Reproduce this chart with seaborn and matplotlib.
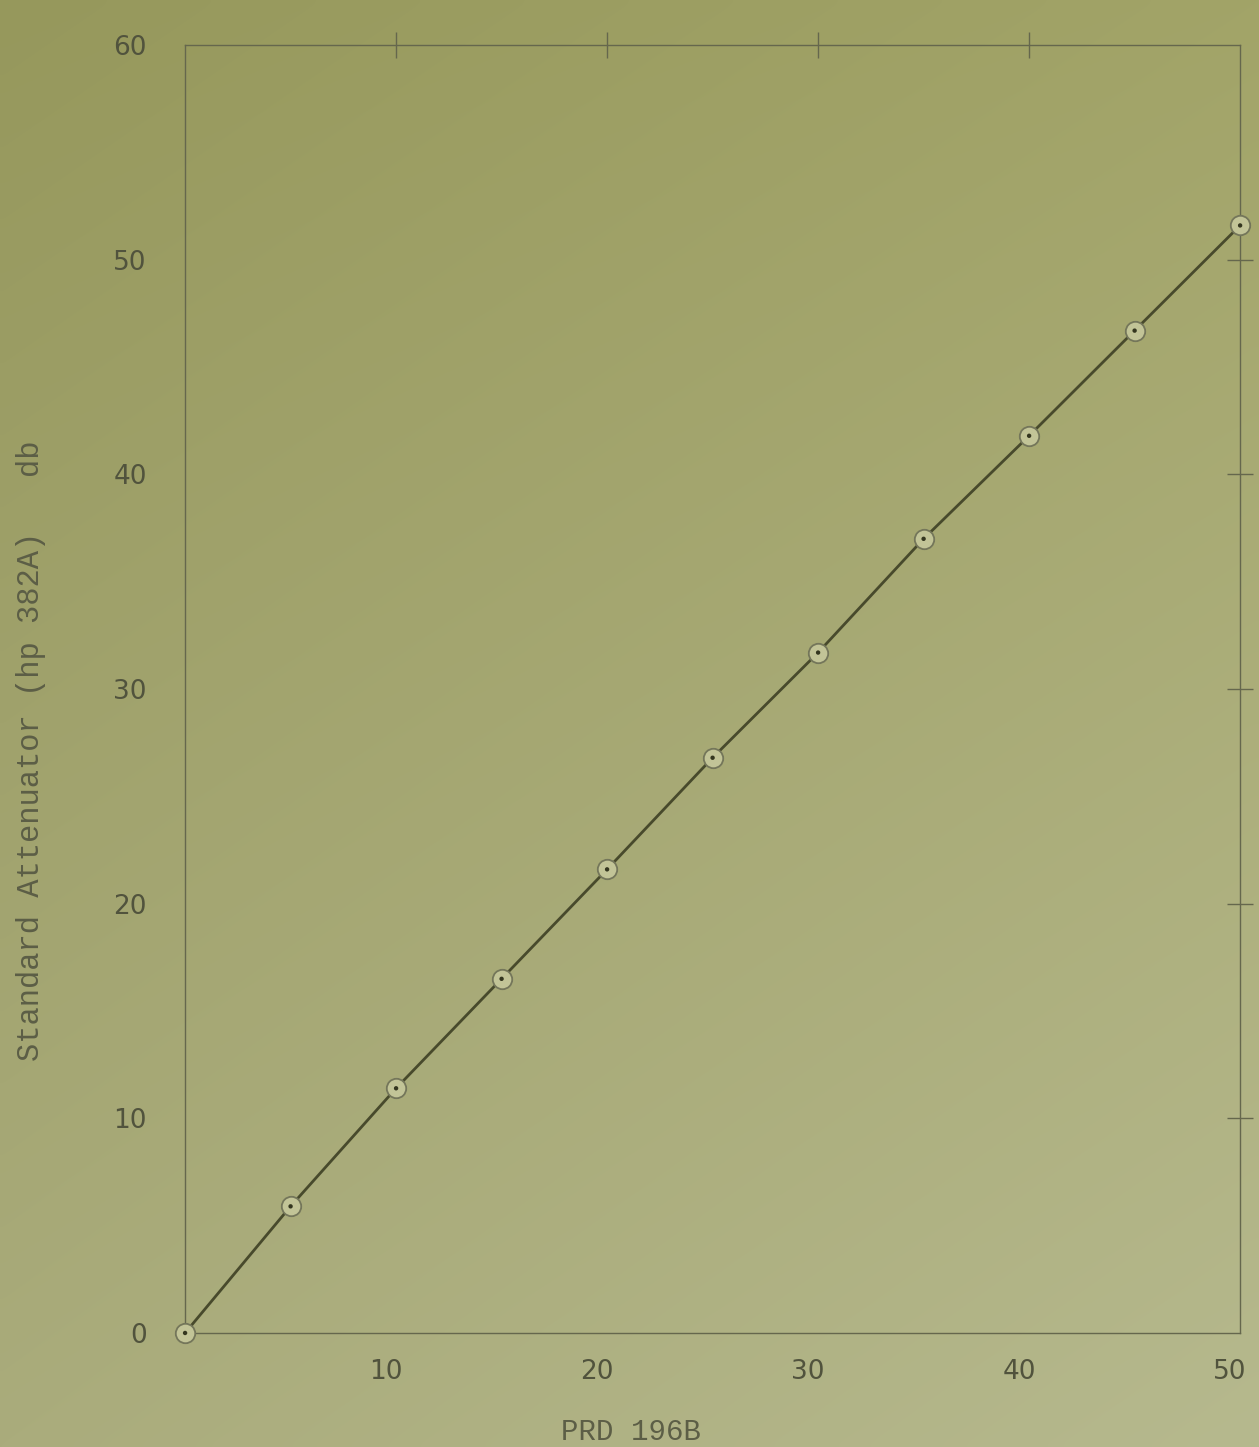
import numpy as np
import pandas as pd
import matplotlib
matplotlib.use("Agg")
import matplotlib.pyplot as plt
from matplotlib.transforms import ScaledTranslation
import seaborn as sns

# Calibration readings: PRD 196B dial setting vs. standard attenuator (hp 382A), in db
prd_196b = [0, 5, 10, 15, 20, 25, 30, 35, 40, 45, 50]
standard_attenuator = [0.0, 5.9, 11.4, 16.5, 21.6, 26.8, 31.7, 37.0, 41.8, 46.7, 51.6]

x_ticks = [10, 20, 30, 40, 50]
y_ticks = [0, 10, 20, 30, 40, 50, 60]

x_label = "PRD 196B"
y_label = "Standard Attenuator (hp 382A)   db"

df = pd.DataFrame({"prd": prd_196b, "std": standard_attenuator})

ink = "#51533d"
line_color = "#484a2c"
label_color = "#5c5e46"

sns.set_style("white")

fig = plt.figure(figsize=(12.59, 14.47), dpi=100)

# aged paper tone, darker toward the upper left
bg = fig.add_axes([0, 0, 1, 1], zorder=0)
tl = np.array([150, 152, 92]) / 255
tr = np.array([162, 164, 104]) / 255
bl = np.array([170, 172, 124]) / 255
br = np.array([182, 185, 142]) / 255
u = np.linspace(0, 1, 200)[None, :, None]
v = np.linspace(0, 1, 200)[:, None, None]
paper = (1 - v) * ((1 - u) * tl + u * tr) + v * ((1 - u) * bl + u * br)
bg.imshow(paper, aspect="auto", extent=[0, 1, 0, 1], interpolation="bicubic")
bg.axis("off")

ax = fig.add_axes([0.147, 0.0788, 0.838, 0.890], zorder=1)
ax.patch.set_alpha(0)

sns.lineplot(data=df, x="prd", y="std", ax=ax, color=line_color, linewidth=2.0,
             zorder=2)
sns.scatterplot(data=df, x="prd", y="std", ax=ax, s=14 ** 2, marker="o",
                facecolor="#c2c497", edgecolor="#74765a", linewidth=1.3,
                zorder=3, clip_on=False)
sns.scatterplot(data=df, x="prd", y="std", ax=ax, s=10, marker="o",
                color="#34361f", edgecolor="none", zorder=4, clip_on=False)

ax.set_xlim(0, 50)
ax.set_ylim(0, 60)
ax.set_xticks(x_ticks)
ax.set_yticks(y_ticks)

for side in ["left", "right", "top", "bottom"]:
    ax.spines[side].set_visible(True)
    ax.spines[side].set_color("#65674d")
    ax.spines[side].set_linewidth(1.0)

ax.tick_params(axis="both", direction="inout", length=19, width=1.0,
               color="#65674d", top=True, right=True,
               labeltop=False, labelright=False,
               labelsize=19, labelcolor=ink)
ax.tick_params(axis="x", pad=9)
ax.tick_params(axis="y", pad=18)

for lab in ax.get_xticklabels() + ax.get_yticklabels():
    lab.set_fontfamily("DejaVu Sans")

# hand-lettered x numbers sit a little left of their ticks
shift = ScaledTranslation(-0.10, 0, fig.dpi_scale_trans)
for lab in ax.get_xticklabels():
    lab.set_transform(lab.get_transform() + shift)

# no tick marks where a tick falls on a frame corner
for t in ax.yaxis.get_major_ticks():
    if t.get_loc() in (0, 60):
        t.tick1line.set_visible(False)
        t.tick2line.set_visible(False)
for t in ax.xaxis.get_major_ticks():
    if t.get_loc() == 50:
        t.tick1line.set_visible(False)
        t.tick2line.set_visible(False)

ax.set_xlabel(x_label, fontfamily="Liberation Mono", fontsize=21, color=label_color)
ax.set_ylabel(y_label, fontfamily="Liberation Mono", fontsize=22, color=label_color)
ax.xaxis.set_label_coords(0.423, -0.066)
ax.yaxis.set_label_coords(-0.132, 0.452)

fig.savefig("out.png", dpi=100)
